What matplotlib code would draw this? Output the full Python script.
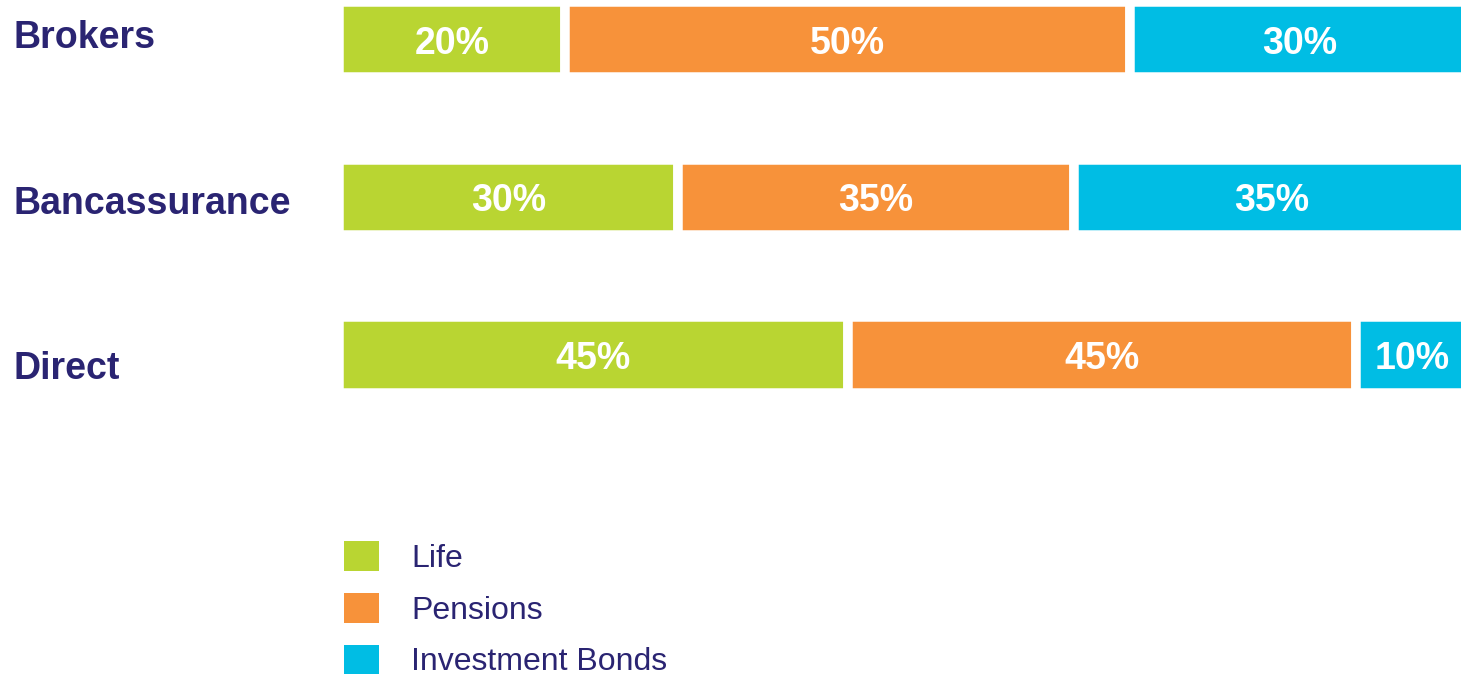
import matplotlib
matplotlib.use("Agg")
import numpy as np
from matplotlib import pyplot as plt
from matplotlib import transforms
from matplotlib.patches import Patch

plt.rcParams['font.family'] = ['Liberation Sans', 'DejaVu Sans']

# data
channels = ['Brokers', 'Bancassurance', 'Direct']
products = ['Life', 'Pensions', 'Investment Bonds']
life = [20, 30, 45]
pensions = [50, 35, 45]
bonds = [30, 35, 10]

colors = ['#B9D532', '#F7923A', '#00BDE4']
navy = '#2A2472'

fig = plt.figure(figsize=(14.61, 6.78), dpi=100)
# axes reaches past the right edge, the bars are cut off there in the original
ax = fig.add_axes([0.2322, 0.3805, 0.7734, 0.6195])

ys = np.arange(len(channels))
left = np.zeros(len(channels))
for series, col in zip([life, pensions, bonds], colors):
    vals = np.array(series, dtype=float)
    ax.barh(ys, vals, left=left, height=0.479, color=col,
            edgecolor='white', linewidth=6.84)
    for y, l, v in zip(ys, left, vals):
        ax.text(l + v / 2, y, f'{v:.0f}%', ha='center', va='center_baseline',
                color='white', fontsize=27, fontweight='bold')
    left += vals

ax.set_xlim(0, 100)
ax.set_ylim(2.412, -0.252)
ax.axis('off')

# category names on the far left, spaced a bit wider than the bars
trans = transforms.blended_transform_factory(fig.transFigure, ax.transData)
for y, name in zip(ys, channels):
    ax.text(13 / 1461, -0.008 + y * 1.048, name, transform=trans,
            ha='left', va='center', color=navy, fontsize=27,
            fontweight='bold', clip_on=False)

# legend below
handles = [Patch(facecolor=c, edgecolor='none') for c in colors]
fig.legend(handles, products, loc='upper left',
           bbox_to_anchor=(344 / 1461, 1 - 541 / 678),
           frameon=False, fontsize=23, labelcolor=navy,
           handlelength=1.1, handleheight=1.05, handletextpad=1.0,
           labelspacing=0.6, borderpad=0, borderaxespad=0)

fig.savefig('out.png', dpi=100)
